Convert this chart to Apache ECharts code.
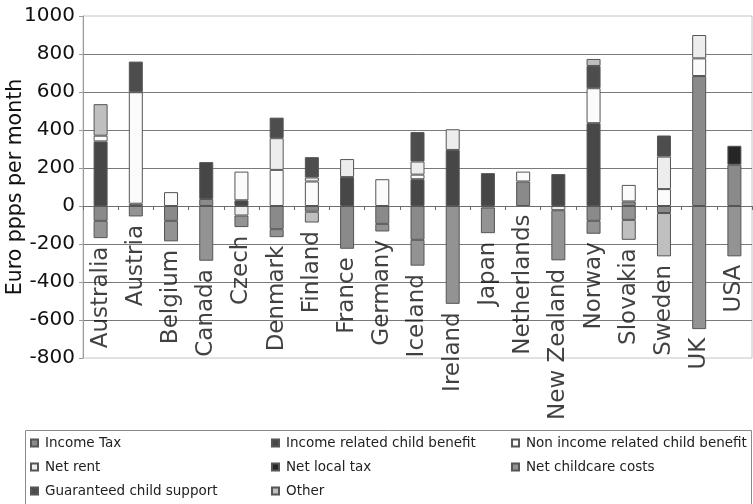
<!DOCTYPE html>
<html>
<head>
<meta charset="utf-8">
<script src="https://cdn.jsdelivr.net/npm/echarts@6/dist/echarts.min.js"></script>
<style>
html,body{margin:0;padding:0;background:#fff;}
#chart{width:753px;height:504px;}
</style>
</head>
<body>
<div id="chart"></div>
<script>
const categories = ['Australia','Austria','Belgium','Canada','Czech','Denmark','Finland','France','Germany','Iceland','Ireland','Japan','Netherlands','New Zealand','Norway','Slovakia','Sweden','UK','USA'];

const incomeTax                    = [-78, 12, -78, 37,   0, -122, -30, -225, -94, -178,    0,    0, 129,    0, -78,  24, -37, 684, 217];
const incomeRelatedChildBenefit    = [340,  0,   0, 194, 30,    0,   0,  152,   0,  141,  295,  173,   0,  168, 436,   0,   0,   0,   0];
const nonIncomeRelatedChildBenefit = [ 30, 587, 73,   0, 151,  190, 129,    0, 141,   24,    0,    0,  52,    0, 184,  87,  89,  93,   0];
const netRent                      = [  0,   0,  0,   0, -50,  167,  21,   95,   0,   69,  109,    0,   0,  -22,   0,   0, 171, 123,   0];
const netLocalTax                  = [  0,   0,  0,   0,   0,    0,   0,    0,   0,    0,    0,   -8,   0,    0,   0,   0,   0,   0, 100];
const netChildcareCosts            = [-91, -55,-108,-288, -61,  -42,   0,    0, -40, -136, -515, -135,   0, -264, -68, -73,   0,-648,-265];
const guaranteedChildSupport       = [  0, 161,  0,   0,   0,  108, 107,    0,   0,  155,    0,    0,   0,    0, 117,   0, 111,   0,   0];
const other                        = [166,   0,  0,   0,   0,    0, -57,    0,   0,    0,    0,    0,   0,    0,  37,-105,-228,   0,   0];

const yMin = -800, yMax = 1000, yStep = 200;
const yAxisName = 'Euro ppps per month';

const FONT = 'DejaVu Sans';
const seriesDefs = [
  {name: 'Income Tax', data: incomeTax, color: '#8a8a8a'},
  {name: 'Income related child benefit', data: incomeRelatedChildBenefit, color: '#474747'},
  {name: 'Non income related child benefit', data: nonIncomeRelatedChildBenefit, color: '#fbfbfb'},
  {name: 'Net rent', data: netRent, color: '#ededed'},
  {name: 'Net local tax', data: netLocalTax, color: '#262626'},
  {name: 'Net childcare costs', data: netChildcareCosts, color: '#939393'},
  {name: 'Guaranteed child support', data: guaranteedChildSupport, color: '#4d4d4d'},
  {name: 'Other', data: other, color: '#bfbfbf'}
];

const barSeries = seriesDefs.map(d => ({
  name: d.name,
  type: 'bar',
  stack: 'total',
  barWidth: 14,
  data: d.data.map(v => v === 0 ? '-' : v),
  itemStyle: {color: d.color, borderColor: '#555', borderWidth: 1}
}));

const bottoms = categories.map((_, i) => seriesDefs.reduce((s, d) => s + Math.min(d.data[i], 0), 0));

const labelSeries = {
  name: 'labels',
  type: 'scatter',
  silent: true,
  symbolSize: 1,
  itemStyle: {color: 'rgba(0,0,0,0)'},
  z: 10,
  data: bottoms,
  label: {
    show: true,
    position: 'bottom',
    distance: 8,
    rotate: 90,
    align: 'right',
    verticalAlign: 'middle',
    fontFamily: FONT,
    fontSize: 23,
    color: '#111',
    formatter: p => categories[p.dataIndex]
  }
};

const legendCommon = {
  orient: 'vertical',
  top: 435,
  itemGap: 8,
  itemWidth: 7,
  itemHeight: 7,
  icon: 'rect',
  padding: 0,
  selectedMode: false,
  textStyle: {fontFamily: FONT, fontSize: 13.5, lineHeight: 16, color: '#222', padding: [0, 0, 0, 2]}
};

const chart = echarts.init(document.getElementById('chart'), null, {renderer: 'canvas'});
chart.setOption({
  animation: false,
  backgroundColor: '#fff',
  grid: {left: 83, right: 1, top: 16, bottom: 146, show: true, borderColor: '#c4c4c4', borderWidth: 1, containLabel: false, outerBoundsMode: 'none'},
  legend: [
    Object.assign({}, legendCommon, {left: 30, data: ['Income Tax', 'Net rent', 'Guaranteed child support']}),
    Object.assign({}, legendCommon, {left: 271, data: ['Income related child benefit', 'Net local tax', 'Other']}),
    Object.assign({}, legendCommon, {left: 511, data: ['Non income related child benefit', 'Net childcare costs']})
  ],
  graphic: [{
    type: 'rect',
    shape: {x: 25.5, y: 430.5, width: 726, height: 80},
    style: {fill: 'none', stroke: '#8a8a8a', lineWidth: 1},
    silent: true,
    z: -1
  }],
  xAxis: {
    type: 'category',
    data: categories,
    axisLine: {onZero: true, lineStyle: {color: '#6e6e6e', width: 1}},
    axisTick: {show: true, interval: 0, length: 4, lineStyle: {color: '#6e6e6e'}},
    axisLabel: {show: false},
    splitLine: {show: false}
  },
  yAxis: {
    type: 'value',
    min: yMin,
    max: yMax,
    interval: yStep,
    name: yAxisName,
    nameLocation: 'middle',
    nameGap: 57,
    nameMoveOverlap: false,
    nameTextStyle: {fontFamily: FONT, fontSize: 20.5, color: '#111'},
    axisLine: {show: true, lineStyle: {color: '#9a9a9a'}},
    axisTick: {show: true, length: 4, lineStyle: {color: '#9a9a9a'}},
    axisLabel: {fontFamily: FONT, fontSize: 20, color: '#111', margin: 8, formatter: v => String(v)},
    splitLine: {show: true, showMinLine: false, showMaxLine: false, lineStyle: {color: '#7a7a7a', width: 1}}
  },
  series: barSeries.concat([labelSeries])
});
</script>
</body>
</html>
